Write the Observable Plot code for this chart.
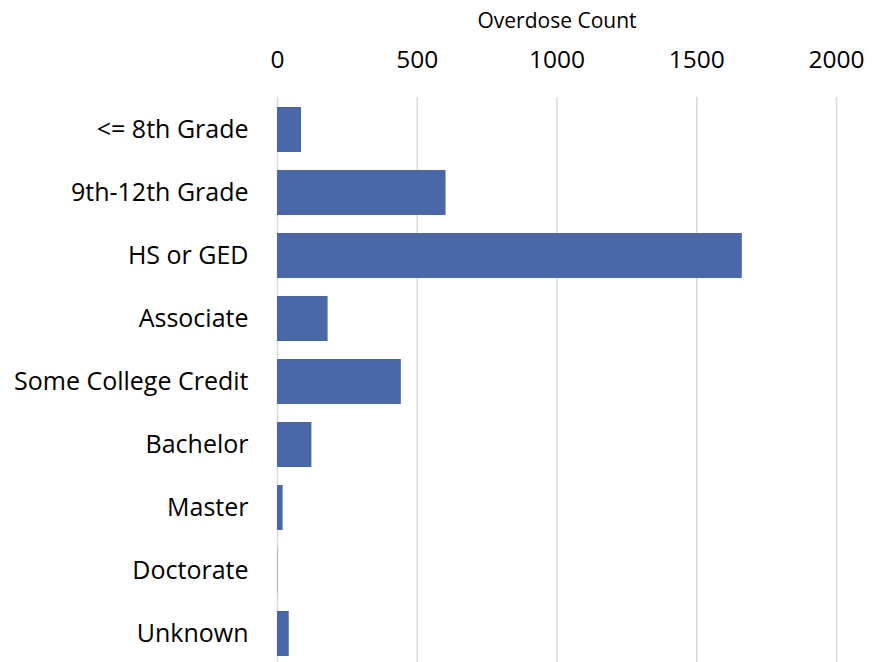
<!DOCTYPE html>
<html>
<head>
<meta charset="utf-8">
<script src="https://cdn.jsdelivr.net/npm/d3@7"></script>
<script src="https://cdn.jsdelivr.net/npm/@observablehq/plot@0.6"></script>
<style>
  html, body { margin: 0; padding: 0; background: #fff; }
  #chart svg { display: block; }
</style>
</head>
<body>
<div id="chart"></div>
<script>
const categories = ["<= 8th Grade", "9th-12th Grade", "HS or GED", "Associate", "Some College Credit", "Bachelor", "Master", "Doctorate", "Unknown"];
const counts = [86, 603, 1663, 181, 443, 123, 20, 1, 42];
const xTicks = [0, 500, 1000, 1500, 2000];
const xTitle = "Overdose Count";

const data = categories.map((c, i) => ({category: c, count: counts[i]}));

const chart = Plot.plot({
  width: 883,
  height: 662,
  marginLeft: 277,
  marginRight: 47,
  marginTop: 97,
  marginBottom: 0,
  style: {fontFamily: "'Open Sans', sans-serif", color: "#000", background: "#fff"},
  x: {domain: [0, 2000], ticks: xTicks, axis: null},
  y: {domain: categories, range: [96.6, 665.4], paddingInner: 0.29, paddingOuter: 0.145, axis: null},
  marks: [
    Plot.gridX(xTicks, {stroke: "#d9d9d9", strokeOpacity: 1, strokeWidth: 1.5}),
    Plot.barX(data, {y: "category", x: "count", fill: "#4a67a8"}),
    Plot.axisX(xTicks, {anchor: "top", tickSize: 0, tickPadding: 30, fontSize: 24.5, label: null, tickFormat: d => String(d)}),
    Plot.axisY(categories, {anchor: "left", tickSize: 0, tickPadding: 29, fontSize: 25, label: null}),
    Plot.text([xTitle], {frameAnchor: "top", dy: -84, fontSize: 21, fill: "#000"})
  ]
});
document.getElementById("chart").appendChild(chart);
</script>
</body>
</html>
